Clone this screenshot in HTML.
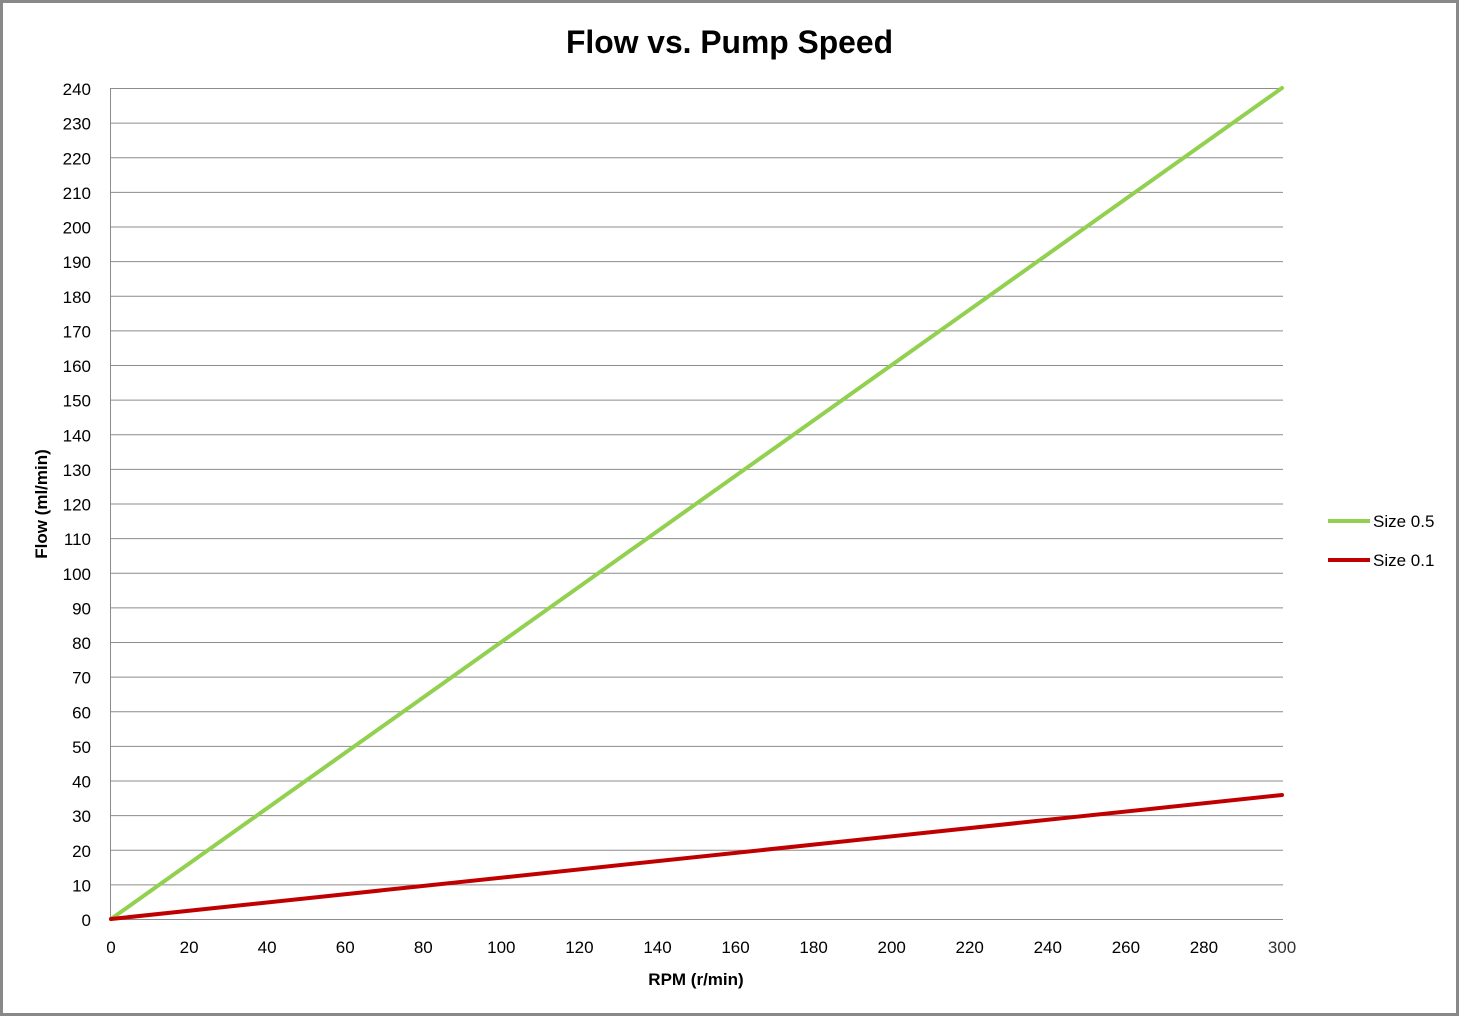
<!DOCTYPE html>
<html><head><meta charset="utf-8"><style>
html,body{margin:0;padding:0;background:#fff}
svg{display:block}
text{font-family:"Liberation Sans",sans-serif;fill:#000}
</style></head><body>
<svg width="1460" height="1017" viewBox="0 0 1460 1017" xmlns="http://www.w3.org/2000/svg">
<rect x="1.5" y="1.5" width="1456" height="1013" fill="#fff" stroke="#898989" stroke-width="3"/>
<text x="729.5" y="53" font-size="32" font-weight="bold" text-anchor="middle" textLength="327" lengthAdjust="spacingAndGlyphs">Flow vs. Pump Speed</text>
<g stroke="#8c8c8c" stroke-width="1">
<line x1="110" y1="88.5" x2="1283" y2="88.5"/><line x1="110" y1="123.1" x2="1283" y2="123.1"/><line x1="110" y1="157.8" x2="1283" y2="157.8"/><line x1="110" y1="192.4" x2="1283" y2="192.4"/><line x1="110" y1="227" x2="1283" y2="227"/><line x1="110" y1="261.6" x2="1283" y2="261.6"/><line x1="110" y1="296.3" x2="1283" y2="296.3"/><line x1="110" y1="330.9" x2="1283" y2="330.9"/><line x1="110" y1="365.5" x2="1283" y2="365.5"/><line x1="110" y1="400.1" x2="1283" y2="400.1"/><line x1="110" y1="434.8" x2="1283" y2="434.8"/><line x1="110" y1="469.4" x2="1283" y2="469.4"/><line x1="110" y1="504" x2="1283" y2="504"/><line x1="110" y1="538.6" x2="1283" y2="538.6"/><line x1="110" y1="573.3" x2="1283" y2="573.3"/><line x1="110" y1="607.9" x2="1283" y2="607.9"/><line x1="110" y1="642.5" x2="1283" y2="642.5"/><line x1="110" y1="677.1" x2="1283" y2="677.1"/><line x1="110" y1="711.8" x2="1283" y2="711.8"/><line x1="110" y1="746.4" x2="1283" y2="746.4"/><line x1="110" y1="781" x2="1283" y2="781"/><line x1="110" y1="815.6" x2="1283" y2="815.6"/><line x1="110" y1="850.3" x2="1283" y2="850.3"/><line x1="110" y1="884.9" x2="1283" y2="884.9"/><line x1="110" y1="919.5" x2="1283" y2="919.5"/>
<line x1="110.5" y1="88" x2="110.5" y2="920"/>
</g>
<g font-size="17" text-anchor="end">
<text x="91" y="95">240</text><text x="91" y="129.6">230</text><text x="91" y="164.3">220</text><text x="91" y="198.9">210</text><text x="91" y="233.5">200</text><text x="91" y="268.1">190</text><text x="91" y="302.8">180</text><text x="91" y="337.4">170</text><text x="91" y="372">160</text><text x="91" y="406.6">150</text><text x="91" y="441.3">140</text><text x="91" y="475.9">130</text><text x="91" y="510.5">120</text><text x="91" y="545.1">110</text><text x="91" y="579.8">100</text><text x="91" y="614.4">90</text><text x="91" y="649">80</text><text x="91" y="683.6">70</text><text x="91" y="718.3">60</text><text x="91" y="752.9">50</text><text x="91" y="787.5">40</text><text x="91" y="822.1">30</text><text x="91" y="856.8">20</text><text x="91" y="891.4">10</text><text x="91" y="926">0</text>
</g>
<g font-size="17" text-anchor="middle">
<text x="111" y="953">0</text><text x="189.1" y="953">20</text><text x="267.1" y="953">40</text><text x="345.2" y="953">60</text><text x="423.3" y="953">80</text><text x="501.3" y="953">100</text><text x="579.4" y="953">120</text><text x="657.5" y="953">140</text><text x="735.5" y="953">160</text><text x="813.6" y="953">180</text><text x="891.7" y="953">200</text><text x="969.7" y="953">220</text><text x="1047.8" y="953">240</text><text x="1125.9" y="953">260</text><text x="1203.9" y="953">280</text><text x="1282" y="953" style="fill:#333">300</text>
</g>
<text x="696" y="985" font-size="17" font-weight="bold" text-anchor="middle">RPM (r/min)</text>
<text transform="translate(47,504) rotate(-90)" font-size="17" font-weight="bold" text-anchor="middle">Flow (ml/min)</text>
<line x1="111" y1="919" x2="1282" y2="88" stroke="#92d050" stroke-width="4" stroke-linecap="round"/>
<line x1="111" y1="919" x2="1282" y2="795" stroke="#c00000" stroke-width="4" stroke-linecap="round"/>
<line x1="1328" y1="521" x2="1370" y2="521" stroke="#92d050" stroke-width="4"/>
<line x1="1328" y1="560" x2="1370" y2="560" stroke="#c00000" stroke-width="4"/>
<text x="1373" y="527" font-size="17">Size 0.5</text>
<text x="1373" y="566" font-size="17">Size 0.1</text>
</svg>
</body></html>
